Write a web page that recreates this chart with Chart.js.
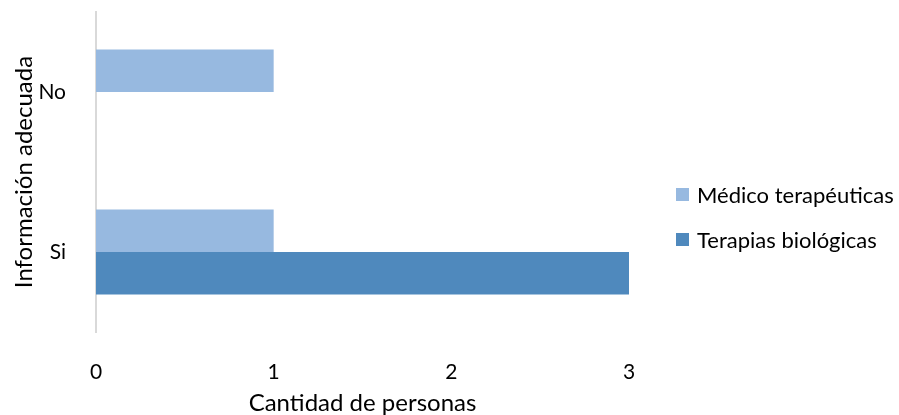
<!DOCTYPE html>
<html>
<head>
<meta charset="utf-8">
<script src="https://cdn.jsdelivr.net/npm/chart.js@4"></script>
<style>
  html, body { margin: 0; padding: 0; background: #fff; }
  #wrap { position: relative; width: 899px; height: 415px; }
  #legend { position: absolute; left: 676px; top: 183px; font-family: Lato, sans-serif; font-size: 22px; color: #000; }
  #legend div { display: flex; align-items: center; height: 23px; margin-bottom: 22px; white-space: nowrap; }
  #legend span.box { display: inline-block; width: 13px; height: 13px; margin-right: 8px; }
</style>
</head>
<body>
<div id="wrap">
  <canvas id="chart"></canvas>
  <div id="legend"></div>
</div>
<script>
// categories top to bottom, values per series
const categories = ['No', 'Si'];
const medicoValues = [1, 1];
const terapiasValues = [0, 3];
const xTicks = [0, 1, 2, 3];

const seriesNames = ['Médico terapéuticas', 'Terapias biológicas'];
const seriesColors = ['#97b9e0', '#4f89bd'];

const FONT = 'Lato, sans-serif';

const chart = new Chart(document.getElementById('chart'), {
  type: 'bar',
  data: {
    labels: categories,
    datasets: [
      { label: seriesNames[0], data: medicoValues, backgroundColor: seriesColors[0] },
      { label: seriesNames[1], data: terapiasValues, backgroundColor: seriesColors[1] }
    ]
  },
  options: {
    indexAxis: 'y',
    responsive: true,
    maintainAspectRatio: false,
    animation: false,
    layout: { padding: { top: 12, right: 270, left: 0, bottom: 0 } },
    datasets: {
      bar: { categoryPercentage: 0.53, barPercentage: 1, borderWidth: 0 }
    },
    plugins: {
      legend: { display: false },
      tooltip: { enabled: false }
    },
    scales: {
      x: {
        min: xTicks[0],
        max: xTicks[xTicks.length - 1],
        grid: { display: false },
        border: { display: false },
        afterBuildTicks: scale => { scale.ticks = xTicks.map(v => ({ value: v })); },
        afterFit: scale => { scale.height = 83; },
        ticks: { color: '#000', padding: 20, font: { family: FONT, size: 21 } },
        title: {
          display: true,
          text: 'Cantidad de personas',
          color: '#000',
          font: { family: FONT, size: 24, lineHeight: 1 },
          padding: { top: 0, bottom: 0 }
        }
      },
      y: {
        grid: { display: false },
        border: { display: true, color: '#d9d9d9', width: 2 },
        afterFit: scale => {
          scale.width = 96;
          // tick padding would otherwise push the plot area down
          scale.paddingTop = 0;
          scale.paddingBottom = 0;
        },
        ticks: { color: '#000', padding: 22, font: { family: FONT, size: 21 } },
        title: {
          display: true,
          text: 'Información adecuada',
          color: '#000',
          font: { family: FONT, size: 24, lineHeight: 1 },
          padding: { top: 12, bottom: 0 }
        }
      }
    }
  }
});

// legend as html, built from the datasets
const legendEl = document.getElementById('legend');
chart.data.datasets.forEach(ds => {
  const row = document.createElement('div');
  const box = document.createElement('span');
  box.className = 'box';
  box.style.background = ds.backgroundColor;
  row.appendChild(box);
  row.appendChild(document.createTextNode(ds.label));
  legendEl.appendChild(row);
});
</script>
</body>
</html>
